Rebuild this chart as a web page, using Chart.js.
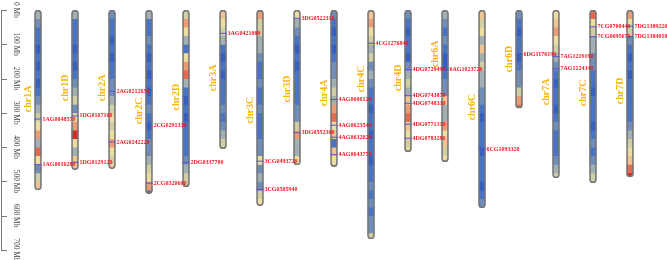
<!DOCTYPE html>
<html>
<head>
<meta charset="utf-8">
<script src="https://cdn.jsdelivr.net/npm/chart.js@4/dist/chart.umd.min.js"></script>
<style>
  html, body { margin: 0; padding: 0; background: #fff; }
</style>
</head>
<body>
<canvas id="chart" width="667" height="260"></canvas>
<script>
// chromosomes, lengths (Mb) and where each name sits (Mb)
const chromosomes = ['chr1A', 'chr1D', 'chr2A', 'chr2C', 'chr2D', 'chr3A', 'chr3C', 'chr3D', 'chr4A',
                     'chr4C', 'chr4D', 'chr6A', 'chr6C', 'chr6D', 'chr7A', 'chr7C', 'chr7D'];
const chrLengths = [525, 466, 463, 536, 516, 405, 571, 452, 457, 668, 414, 443, 577, 286, 490, 504, 487];
const chrLabelPos = [259, 227, 227, 294, 254, 198, 292, 230, 242, 201, 198, 128, 283, 143, 239, 242, 236];

// gene density level per 25 Mb bin (0 = low / blue ... 9 = high / red)
const binSize = 25;
const density = [
    [3, 2, 1, 1, 0, 1, 0, 1, 0, 1, 2, 3, 4, 5, 7, 3, 8, 5, 2, 4, 6],
    [3, 1, 1, 1, 0, 1, 0, 1, 2, 3, 4, 2, 5, 7, 9, 5, 3, 6, 6],
    [2, 1, 1, 0, 1, 0, 1, 1, 2, 2, 3, 4, 5, 4, 5, 7, 5, 4, 6],
    [3, 1, 1, 2, 1, 0, 1, 0, 1, 0, 1, 2, 1, 0, 1, 2, 2, 3, 4, 5, 7, 1],
    [4, 7, 5, 3, 1, 5, 7, 8, 3, 1, 0, 1, 0, 1, 1, 1, 1, 2, 3, 4, 4],
    [6, 5, 4, 3, 1, 0, 1, 0, 1, 1, 1, 2, 1, 2, 3, 4, 4],
    [7, 4, 4, 3, 3, 2, 1, 1, 2, 1, 1, 2, 1, 1, 1, 2, 2, 5, 2, 3, 2, 4, 5],
    [5, 3, 2, 1, 0, 1, 0, 1, 1, 1, 1, 2, 2, 4, 7, 3, 3, 5, 5],
    [2, 1, 0, 1, 0, 1, 2, 2, 3, 4, 3, 7, 8, 5, 6, 1, 6, 5, 6],
    [6, 7, 5, 4, 3, 4, 2, 3, 2, 1, 1, 0, 1, 1, 0, 1, 1, 0, 1, 1, 2, 1, 2, 1, 2, 2, 4],
    [2, 1, 0, 1, 1, 0, 2, 3, 4, 3, 6, 7, 8, 6, 5, 4, 5],
    [3, 2, 1, 2, 1, 0, 0, 1, 2, 2, 6, 3, 3, 7, 5, 6, 4, 5],
    [6, 4, 5, 3, 6, 3, 4, 3, 3, 2, 2, 1, 0, 1, 1, 1, 0, 1, 1, 1, 0, 1, 2, 3],
    [2, 1, 0, 1, 1, 0, 1, 2, 2, 4, 7, 8],
    [5, 6, 7, 5, 4, 3, 2, 1, 0, 1, 1, 0, 1, 2, 1, 1, 1, 2, 3, 4],
    [8, 5, 4, 3, 3, 2, 2, 1, 1, 0, 1, 1, 1, 0, 1, 2, 1, 2, 3, 4, 5],
    [7, 5, 4, 2, 1, 0, 1, 0, 1, 1, 1, 1, 1, 2, 3, 4, 5, 6, 8, 9]
];
const palette = ['#3461bf', '#4874c3', '#6f8db9', '#a2afb3', '#cfcea5', '#ecdea2',
                 '#efc392', '#e99d74', '#e26a50', '#d42a2a'];

// marked genes
const geneNames = ['1AG0048570', '1AG0016280', '1DG0167100', '1DG0129120', '2AG0212650', '2AG0242220',
    '2CG0291330', '2CG0320600', '2DG0337700', '3AG0421080', '3CG0493720', '3CG0505940', '3DG0522310',
    '3DG0552300', '4AG0600120', '4AG0623540', '4AG0632020', '4AG0643770', '4CG1276840', '4DG0729490',
    '4DG0743870', '4DG0748330', '4DG0771310', '4DG0783280', '6AG1023720', '6CG1093320', '6DG1176190',
    '7AG1219190', '7AG1224340', '7CG0700440', '7CG0695670', '7DG1389220', '7DG1384010'];
const geneChr = ['chr1A', 'chr1A', 'chr1D', 'chr1D', 'chr2A', 'chr2A', 'chr2C', 'chr2C', 'chr2D', 'chr3A',
    'chr3C', 'chr3C', 'chr3D', 'chr3D', 'chr4A', 'chr4A', 'chr4A', 'chr4A', 'chr4C', 'chr4D', 'chr4D',
    'chr4D', 'chr4D', 'chr4D', 'chr6A', 'chr6C', 'chr6D', 'chr7A', 'chr7A', 'chr7C', 'chr7C', 'chr7D', 'chr7D'];
const genePos = [318, 451, 309, 444, 237, 385, 336, 505, 445, 68, 441, 524, 24, 358, 261, 336, 371, 422,
    97, 174, 250, 272, 333, 374, 172, 406, 130, 136, 171, 49, 78, 47, 78];

const axisTicks = [0, 100, 200, 300, 400, 500, 600, 700];

const BAR_W = 7;
const datasets = [];

// outline of each chromosome (drawn last, also used as clip shape)
datasets.push({
    label: 'outline',
    data: chrLengths.map(len => [0, len]),
    backgroundColor: 'rgba(0,0,0,0)',
    borderColor: '#777',
    borderWidth: 1,
    borderRadius: BAR_W / 2,
    borderSkipped: false,
    barThickness: BAR_W,
    stack: 'c',
    order: 1
});

// density bins
const nBins = Math.max(...density.map(d => d.length));
for (let k = 0; k < nBins; k++) {
    datasets.push({
        label: 'bin' + k,
        data: chrLengths.map((len, c) => k < density[c].length ? [k * binSize, Math.min((k + 1) * binSize, len)] : null),
        backgroundColor: ctx => palette[density[ctx.dataIndex][k]],
        borderWidth: 0,
        inflateAmount: 0.4,
        barThickness: BAR_W,
        stack: 'c',
        order: 3
    });
}

// gene marker lines
datasets.push({
    type: 'line',
    label: 'genes',
    data: geneChr.map((c, i) => ({ x: c, y: genePos[i] })),
    showLine: false,
    pointStyle: 'line',
    pointRadius: BAR_W / 2,
    pointBorderColor: '#5a4fd6',
    pointBorderWidth: 1,
    order: 0
});

const chromClip = {
    id: 'chromClip',
    beforeDatasetDraw(chart, args) {
        if (!args.meta.label || !args.meta.label.startsWith('bin')) return;
        const ctx = chart.ctx;
        const outline = chart.getDatasetMeta(0);
        ctx.save();
        ctx.beginPath();
        outline.data.forEach(el => {
            const top = Math.min(el.y, el.base);
            const h = Math.abs(el.base - el.y);
            ctx.roundRect(el.x - el.width / 2, top, el.width, h, el.width / 2);
        });
        ctx.clip();
    },
    afterDatasetDraw(chart, args) {
        if (!args.meta.label || !args.meta.label.startsWith('bin')) return;
        chart.ctx.restore();
    }
};

const annotations = {
    id: 'annotations',
    afterDatasetsDraw(chart) {
        const ctx = chart.ctx;
        const x = chart.scales.x, y = chart.scales.y;

        // left axis
        ctx.save();
        ctx.strokeStyle = '#777';
        ctx.lineWidth = 1;
        ctx.beginPath();
        ctx.moveTo(1.5, y.getPixelForValue(axisTicks[0]));
        ctx.lineTo(1.5, y.getPixelForValue(axisTicks[axisTicks.length - 1]));
        axisTicks.forEach(t => {
            const py = Math.round(y.getPixelForValue(t)) + 0.5;
            ctx.moveTo(1, py);
            ctx.lineTo(7, py);
        });
        ctx.stroke();
        ctx.fillStyle = '#444';
        ctx.font = '7.5px "Liberation Serif", serif';
        ctx.textAlign = 'center';
        ctx.textBaseline = 'middle';
        axisTicks.forEach(t => {
            ctx.save();
            ctx.translate(15.5, y.getPixelForValue(t));
            ctx.rotate(Math.PI / 2);
            ctx.fillText(t + ' Mb', 0, 0);
            ctx.restore();
        });

        // chromosome names
        ctx.fillStyle = '#f6b60c';
        ctx.font = 'bold 10px "Liberation Serif", serif';
        chromosomes.forEach((name, i) => {
            ctx.save();
            ctx.translate(x.getPixelForValue(i) - 10, y.getPixelForValue(chrLabelPos[i]));
            ctx.rotate(-Math.PI / 2);
            ctx.fillText(name, 0, 0);
            ctx.restore();
        });

        // gene names
        const genes = chart.getDatasetMeta(chart.data.datasets.length - 1);
        ctx.fillStyle = '#f0141e';
        ctx.font = 'bold 6px "Liberation Serif", serif';
        ctx.textAlign = 'left';
        genes.data.forEach((pt, i) => {
            ctx.fillText(geneNames[i], pt.x + BAR_W / 2 + 1, pt.y);
        });
        ctx.restore();
    }
};

new Chart(document.getElementById('chart'), {
    type: 'bar',
    data: { labels: chromosomes, datasets },
    options: {
        responsive: false,
        animation: false,
        events: [],
        layout: { padding: { left: 19.5, right: 18.5, top: 10, bottom: 10 } },
        plugins: { legend: { display: false }, tooltip: { enabled: false } },
        scales: {
            x: { type: 'category', display: false, stacked: true, grid: { display: false } },
            y: { type: 'linear', display: false, stacked: false, reverse: true, min: 0, max: 700 }
        }
    },
    plugins: [chromClip, annotations]
});
</script>
</body>
</html>
